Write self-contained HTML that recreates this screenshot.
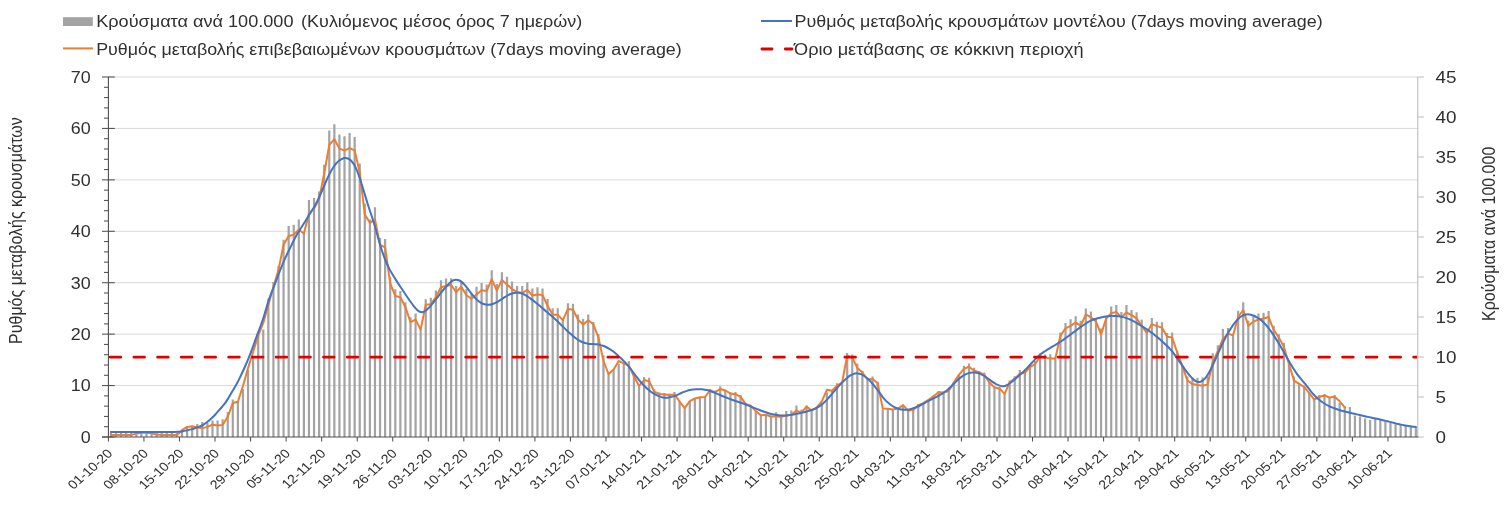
<!DOCTYPE html>
<html><head><meta charset="utf-8"><title>chart</title>
<style>
html,body{margin:0;padding:0;background:#fff;}
body{width:1510px;height:522px;overflow:hidden;}
svg{display:block;will-change:transform;}
text{font-family:"Liberation Sans", "DejaVu Sans", sans-serif;fill:#303030;}
</style></head><body>
<svg width="1510" height="522" viewBox="0 0 1510 522">
<line x1="108.4" y1="385.57" x2="1418.4" y2="385.57" stroke="#d9d9d9" stroke-width="1"/>
<line x1="108.4" y1="334.14" x2="1418.4" y2="334.14" stroke="#d9d9d9" stroke-width="1"/>
<line x1="108.4" y1="282.71" x2="1418.4" y2="282.71" stroke="#d9d9d9" stroke-width="1"/>
<line x1="108.4" y1="231.29" x2="1418.4" y2="231.29" stroke="#d9d9d9" stroke-width="1"/>
<line x1="108.4" y1="179.86" x2="1418.4" y2="179.86" stroke="#d9d9d9" stroke-width="1"/>
<line x1="108.4" y1="128.43" x2="1418.4" y2="128.43" stroke="#d9d9d9" stroke-width="1"/>
<line x1="108.4" y1="77" x2="1418.4" y2="77" stroke="#d9d9d9" stroke-width="1"/>
<path d="M109.84 432.5h2.2V437h-2.2ZM114.92 432.5h2.2V437h-2.2ZM119.99 432.5h2.2V437h-2.2ZM125.07 432.5h2.2V437h-2.2ZM130.15 432.5h2.2V437h-2.2ZM135.23 432.5h2.2V437h-2.2ZM140.3 432.5h2.2V437h-2.2ZM145.38 432.5h2.2V437h-2.2ZM150.46 432.5h2.2V437h-2.2ZM155.54 432.5h2.2V437h-2.2ZM160.61 432.5h2.2V437h-2.2ZM165.69 432.5h2.2V437h-2.2ZM170.77 432.5h2.2V437h-2.2ZM175.85 432.5h2.2V437h-2.2ZM180.92 429.8h2.2V437h-2.2ZM186 426.9h2.2V437h-2.2ZM191.08 425.9h2.2V437h-2.2ZM196.16 424h2.2V437h-2.2ZM201.23 422.1h2.2V437h-2.2ZM206.31 423h2.2V437h-2.2ZM211.39 420.5h2.2V437h-2.2ZM216.47 420.5h2.2V437h-2.2ZM221.54 419.2h2.2V437h-2.2ZM226.62 412h2.2V437h-2.2ZM231.7 399.5h2.2V437h-2.2ZM236.78 401.7h2.2V437h-2.2ZM241.85 389h2.2V437h-2.2ZM246.93 370h2.2V437h-2.2ZM252.01 358h2.2V437h-2.2ZM257.09 334.5h2.2V437h-2.2ZM262.16 329.5h2.2V437h-2.2ZM267.24 298.5h2.2V437h-2.2ZM272.32 282.1h2.2V437h-2.2ZM277.4 265.9h2.2V437h-2.2ZM282.47 239.8h2.2V437h-2.2ZM287.55 226.1h2.2V437h-2.2ZM292.63 224.8h2.2V437h-2.2ZM297.71 219.4h2.2V437h-2.2ZM302.78 232h2.2V437h-2.2ZM307.86 199.9h2.2V437h-2.2ZM312.94 197.9h2.2V437h-2.2ZM318.02 191.5h2.2V437h-2.2ZM323.09 164.8h2.2V437h-2.2ZM328.17 130.4h2.2V437h-2.2ZM333.25 124.2h2.2V437h-2.2ZM338.33 134.4h2.2V437h-2.2ZM343.4 136.2h2.2V437h-2.2ZM348.48 132.9h2.2V437h-2.2ZM353.56 136.9h2.2V437h-2.2ZM358.64 163.6h2.2V437h-2.2ZM363.71 203.4h2.2V437h-2.2ZM368.79 219.6h2.2V437h-2.2ZM373.87 207.2h2.2V437h-2.2ZM378.95 238h2.2V437h-2.2ZM384.02 239h2.2V437h-2.2ZM389.1 277.3h2.2V437h-2.2ZM394.18 289.3h2.2V437h-2.2ZM399.26 291h2.2V437h-2.2ZM404.33 302.2h2.2V437h-2.2ZM409.41 317.2h2.2V437h-2.2ZM414.49 313.4h2.2V437h-2.2ZM419.57 329.6h2.2V437h-2.2ZM424.64 299.2h2.2V437h-2.2ZM429.72 297.7h2.2V437h-2.2ZM434.8 290.5h2.2V437h-2.2ZM439.88 280.3h2.2V437h-2.2ZM444.96 278.6h2.2V437h-2.2ZM450.03 278.2h2.2V437h-2.2ZM455.11 286h2.2V437h-2.2ZM460.19 281.4h2.2V437h-2.2ZM465.27 289.1h2.2V437h-2.2ZM470.34 293.7h2.2V437h-2.2ZM475.42 286.8h2.2V437h-2.2ZM480.5 283h2.2V437h-2.2ZM485.58 284.5h2.2V437h-2.2ZM490.65 270.2h2.2V437h-2.2ZM495.73 284h2.2V437h-2.2ZM500.81 272.2h2.2V437h-2.2ZM505.89 276.8h2.2V437h-2.2ZM510.96 281.4h2.2V437h-2.2ZM516.04 286h2.2V437h-2.2ZM521.12 286h2.2V437h-2.2ZM526.2 282.2h2.2V437h-2.2ZM531.27 288.4h2.2V437h-2.2ZM536.35 287.3h2.2V437h-2.2ZM541.43 288.4h2.2V437h-2.2ZM546.51 299.1h2.2V437h-2.2ZM551.58 308.3h2.2V437h-2.2ZM556.66 308.3h2.2V437h-2.2ZM561.74 319h2.2V437h-2.2ZM566.82 303.2h2.2V437h-2.2ZM571.89 303.7h2.2V437h-2.2ZM576.97 314.4h2.2V437h-2.2ZM582.05 319h2.2V437h-2.2ZM587.13 314.4h2.2V437h-2.2ZM592.2 322h2.2V437h-2.2ZM597.28 333.9h2.2V437h-2.2ZM602.36 355.6h2.2V437h-2.2ZM607.44 373.2h2.2V437h-2.2ZM612.51 369.4h2.2V437h-2.2ZM617.59 363.7h2.2V437h-2.2ZM622.67 362.8h2.2V437h-2.2ZM627.75 361.3h2.2V437h-2.2ZM632.82 374h2.2V437h-2.2ZM637.9 385.5h2.2V437h-2.2ZM642.98 377.1h2.2V437h-2.2ZM648.06 377.8h2.2V437h-2.2ZM653.13 389.3h2.2V437h-2.2ZM658.21 392.4h2.2V437h-2.2ZM663.29 393h2.2V437h-2.2ZM668.37 393.4h2.2V437h-2.2ZM673.44 392.1h2.2V437h-2.2ZM678.52 401.6h2.2V437h-2.2ZM683.6 407.9h2.2V437h-2.2ZM688.68 401.6h2.2V437h-2.2ZM693.75 398.5h2.2V437h-2.2ZM698.83 396.9h2.2V437h-2.2ZM703.91 396.9h2.2V437h-2.2ZM708.99 389h2.2V437h-2.2ZM714.06 390.5h2.2V437h-2.2ZM719.14 386.3h2.2V437h-2.2ZM724.22 389.5h2.2V437h-2.2ZM729.3 392.3h2.2V437h-2.2ZM734.37 392.1h2.2V437h-2.2ZM739.45 395.1h2.2V437h-2.2ZM744.53 403.7h2.2V437h-2.2ZM749.61 405.8h2.2V437h-2.2ZM754.68 411.1h2.2V437h-2.2ZM759.76 415.3h2.2V437h-2.2ZM764.84 414.3h2.2V437h-2.2ZM769.92 416.4h2.2V437h-2.2ZM774.99 412.2h2.2V437h-2.2ZM780.07 414.7h2.2V437h-2.2ZM785.15 410.9h2.2V437h-2.2ZM790.23 410.6h2.2V437h-2.2ZM795.3 405.5h2.2V437h-2.2ZM800.38 409.4h2.2V437h-2.2ZM805.46 405.5h2.2V437h-2.2ZM810.54 410.1h2.2V437h-2.2ZM815.61 407.8h2.2V437h-2.2ZM820.69 402.5h2.2V437h-2.2ZM825.77 392.5h2.2V437h-2.2ZM830.85 391h2.2V437h-2.2ZM835.92 383.3h2.2V437h-2.2ZM841 383.3h2.2V437h-2.2ZM846.08 353h2.2V437h-2.2ZM851.16 354.5h2.2V437h-2.2ZM856.23 363.4h2.2V437h-2.2ZM861.31 370.7h2.2V437h-2.2ZM866.39 378h2.2V437h-2.2ZM871.47 376.4h2.2V437h-2.2ZM876.54 381.8h2.2V437h-2.2ZM881.62 409.2h2.2V437h-2.2ZM886.7 409.1h2.2V437h-2.2ZM891.78 410.1h2.2V437h-2.2ZM896.85 409.4h2.2V437h-2.2ZM901.93 404.8h2.2V437h-2.2ZM907.01 410.6h2.2V437h-2.2ZM912.09 410.1h2.2V437h-2.2ZM917.16 404h2.2V437h-2.2ZM922.24 402.5h2.2V437h-2.2ZM927.32 400.2h2.2V437h-2.2ZM932.4 395.6h2.2V437h-2.2ZM937.47 391h2.2V437h-2.2ZM942.55 391.7h2.2V437h-2.2ZM947.63 390.2h2.2V437h-2.2ZM952.71 382.5h2.2V437h-2.2ZM957.78 374.9h2.2V437h-2.2ZM962.86 365.7h2.2V437h-2.2ZM967.94 363.4h2.2V437h-2.2ZM973.02 367.7h2.2V437h-2.2ZM978.09 371.1h2.2V437h-2.2ZM983.17 372.6h2.2V437h-2.2ZM988.25 381.8h2.2V437h-2.2ZM993.33 386h2.2V437h-2.2ZM998.4 387h2.2V437h-2.2ZM1003.48 392h2.2V437h-2.2ZM1008.56 380.5h2.2V437h-2.2ZM1013.64 376.3h2.2V437h-2.2ZM1018.71 370h2.2V437h-2.2ZM1023.79 370.9h2.2V437h-2.2ZM1028.87 364.2h2.2V437h-2.2ZM1033.95 361.3h2.2V437h-2.2ZM1039.02 353.3h2.2V437h-2.2ZM1044.1 354.6h2.2V437h-2.2ZM1049.18 354.2h2.2V437h-2.2ZM1054.26 357.5h2.2V437h-2.2ZM1059.33 332.6h2.2V437h-2.2ZM1064.41 323h2.2V437h-2.2ZM1069.49 319.2h2.2V437h-2.2ZM1074.57 316.3h2.2V437h-2.2ZM1079.64 320.7h2.2V437h-2.2ZM1084.72 308.6h2.2V437h-2.2ZM1089.8 311.5h2.2V437h-2.2ZM1094.88 318h2.2V437h-2.2ZM1099.96 328.6h2.2V437h-2.2ZM1105.03 316h2.2V437h-2.2ZM1110.11 306.5h2.2V437h-2.2ZM1115.19 305h2.2V437h-2.2ZM1120.27 311.9h2.2V437h-2.2ZM1125.34 305h2.2V437h-2.2ZM1130.42 310h2.2V437h-2.2ZM1135.5 312.3h2.2V437h-2.2ZM1140.58 319.5h2.2V437h-2.2ZM1145.65 328.5h2.2V437h-2.2ZM1150.73 318h2.2V437h-2.2ZM1155.81 321.8h2.2V437h-2.2ZM1160.89 322.2h2.2V437h-2.2ZM1165.96 333h2.2V437h-2.2ZM1171.04 332.4h2.2V437h-2.2ZM1176.12 350.6h2.2V437h-2.2ZM1181.2 365h2.2V437h-2.2ZM1186.27 376.5h2.2V437h-2.2ZM1191.35 377.4h2.2V437h-2.2ZM1196.43 377.8h2.2V437h-2.2ZM1201.51 377.4h2.2V437h-2.2ZM1206.58 376.5h2.2V437h-2.2ZM1211.66 353.2h2.2V437h-2.2ZM1216.74 345.2h2.2V437h-2.2ZM1221.82 329h2.2V437h-2.2ZM1226.89 327.9h2.2V437h-2.2ZM1231.97 335.3h2.2V437h-2.2ZM1237.05 310.7h2.2V437h-2.2ZM1242.13 302.2h2.2V437h-2.2ZM1247.2 320.6h2.2V437h-2.2ZM1252.28 316.3h2.2V437h-2.2ZM1257.36 313.6h2.2V437h-2.2ZM1262.44 312.8h2.2V437h-2.2ZM1267.51 311.1h2.2V437h-2.2ZM1272.59 325.8h2.2V437h-2.2ZM1277.67 334.3h2.2V437h-2.2ZM1282.75 342.7h2.2V437h-2.2ZM1287.82 362.7h2.2V437h-2.2ZM1292.9 376.4h2.2V437h-2.2ZM1297.98 382.7h2.2V437h-2.2ZM1303.06 385.9h2.2V437h-2.2ZM1308.13 392.8h2.2V437h-2.2ZM1313.21 398.4h2.2V437h-2.2ZM1318.29 394.9h2.2V437h-2.2ZM1323.37 394h2.2V437h-2.2ZM1328.44 397.2h2.2V437h-2.2ZM1333.52 394.9h2.2V437h-2.2ZM1338.6 403h2.2V437h-2.2ZM1343.68 406.4h2.2V437h-2.2ZM1348.75 407h2.2V437h-2.2ZM1353.83 415.6h2.2V437h-2.2ZM1358.91 416.6h2.2V437h-2.2ZM1363.99 418.5h2.2V437h-2.2ZM1369.06 420h2.2V437h-2.2ZM1374.14 419.1h2.2V437h-2.2ZM1379.22 420.2h2.2V437h-2.2ZM1384.3 421.4h2.2V437h-2.2ZM1389.37 422.5h2.2V437h-2.2ZM1394.45 423.7h2.2V437h-2.2ZM1399.53 424.8h2.2V437h-2.2ZM1404.61 426h2.2V437h-2.2ZM1409.68 426.6h2.2V437h-2.2ZM1414.76 427.1h2.2V437h-2.2Z" fill="#a3a3a3"/>
<polyline points="110.94,434.9 116.02,434.9 121.09,434.9 126.17,434.9 131.25,434.9 136.33,433.6 141.4,432.8 146.48,432.7 151.56,433.2 156.64,434.6 161.71,434.9 166.79,434.9 171.87,434.9 176.95,434.9 182.02,430.2 187.1,426.9 192.18,426.2 197.26,427.5 202.33,428.1 207.41,426.9 212.49,424.7 217.57,425.6 222.64,425 227.72,416.8 232.8,403 237.88,401.8 242.95,386 248.03,368.1 253.11,352 258.19,335.6 263.26,323 268.34,305 273.42,287 278.5,269.7 283.57,244.8 288.65,236 293.73,234.8 298.81,229.8 303.88,233.5 308.96,213.6 314.04,208.6 319.12,199 324.19,173.5 329.27,144.9 334.35,139.2 339.43,148.6 344.5,150.6 349.58,148.1 354.66,150.4 359.74,172.3 364.81,214.6 369.89,222.8 374.97,219.6 380.05,245 385.12,247.4 390.2,283.5 395.28,296 400.36,297.2 405.43,307.2 410.51,322.1 415.59,319.6 420.67,329.6 425.74,304.7 430.82,304.2 435.9,297.2 440.98,287.3 446.06,286 451.13,285 456.21,292.1 461.29,286.8 466.37,295.2 471.44,298.7 476.52,294.4 481.6,290.2 486.68,291.1 491.75,279.1 496.83,290.6 501.91,279.9 506.99,284.5 512.06,289.1 517.14,292.1 522.22,293 527.3,289.9 532.37,295.6 537.45,294.5 542.53,294.9 547.61,306 552.68,314.4 557.76,314.9 562.84,320.1 567.92,309 572.99,309.8 578.07,319.8 583.15,324.4 588.23,320.2 593.3,324.3 598.38,337.3 603.46,361 608.54,374 613.61,369.4 618.69,361 623.77,363.3 628.85,365.6 633.92,376.3 639,385.8 644.08,380.1 649.16,381.2 654.23,391.6 659.31,393.9 664.39,394.5 669.47,395 674.54,394.4 679.62,401.6 684.7,408.1 689.78,401.1 694.85,398.5 699.93,397.2 705.01,396.9 710.09,390.5 715.16,392.1 720.24,389 725.32,390.5 730.4,393.4 735.47,394.2 740.55,396.9 745.63,403.9 750.71,405.8 755.78,411.1 760.86,415.3 765.94,414.8 771.02,416.5 776.09,416.4 781.17,416.7 786.25,415.5 791.33,414.7 796.4,410.6 801.48,412.7 806.56,406.6 811.64,410.6 816.71,407.5 821.79,401.4 826.87,389.8 831.95,390.7 837.02,385.6 842.1,382.5 847.18,355.7 852.26,357.6 857.33,368 862.41,372.6 867.49,379.5 872.57,379 877.64,383.3 882.72,408.4 887.8,408.8 892.88,409.4 897.95,408.6 903.03,405.1 908.11,410.6 913.19,410.1 918.26,405.1 923.34,403.2 928.42,399.9 933.5,396.3 938.57,392.2 943.65,392.5 948.73,391 953.81,382.5 958.88,374.9 963.96,368.8 969.04,366.8 974.12,370.7 979.19,372.3 984.27,374.9 989.35,382.5 994.43,387.4 999.5,388.4 1004.58,393.9 1009.66,382.4 1014.74,378.6 1019.81,373.8 1024.89,372.8 1029.97,367.1 1035.05,364.2 1040.12,356.5 1045.2,357.5 1050.28,358.5 1055.36,358.5 1060.43,335.5 1065.51,328.4 1070.59,325.9 1075.67,322.6 1080.74,325.9 1085.82,314.4 1090.9,317.3 1095.98,321.6 1101.06,334.4 1106.13,318.6 1111.21,313.2 1116.29,311.9 1121.37,317.6 1126.44,312.3 1131.52,315.1 1136.6,318.4 1141.68,325.7 1146.75,333 1151.83,324.1 1156.91,326.1 1161.99,327.6 1167.06,336.8 1172.14,337.6 1177.22,352.5 1182.3,365.9 1187.37,380.3 1192.45,384.1 1197.53,385.1 1202.61,385.7 1207.68,384.5 1212.76,362 1217.84,351.1 1222.92,338.9 1227.99,333.8 1233.07,335.3 1238.15,317 1243.23,310 1248.3,325.8 1253.38,321.6 1258.46,319.5 1263.54,318.5 1268.61,317 1273.69,330 1278.77,337.4 1283.85,346.9 1288.92,363.8 1294,380.6 1299.08,383.8 1304.16,386.9 1309.23,393.1 1314.31,399.6 1319.39,396.7 1324.47,395.5 1329.54,397.5 1334.62,396.7 1339.7,401.3 1344.78,407.4" fill="none" stroke="#ED7D31" stroke-width="2" stroke-linejoin="round" stroke-linecap="round"/>
<path d="M110.9 432C111.4 432 112.9 431.99 113.9 431.99C114.9 431.99 115.9 431.99 116.9 431.99C117.9 431.98 118.9 431.98 119.9 431.98C120.9 431.98 121.9 431.98 122.9 431.97C123.9 431.97 124.9 431.97 125.9 431.97C126.9 431.96 127.9 431.96 128.9 431.96C129.9 431.96 130.9 431.95 131.9 431.95C132.9 431.95 133.9 431.95 134.9 431.95C135.9 431.94 136.9 431.94 137.9 431.94C138.9 431.94 139.9 431.93 140.9 431.93C141.9 431.93 142.9 431.93 143.9 431.93C144.9 431.92 145.9 431.92 146.9 431.92C147.9 431.92 148.9 431.91 149.9 431.91C150.9 431.91 151.9 431.91 152.9 431.91C153.9 431.9 154.9 431.9 155.9 431.9C156.9 431.9 157.9 431.9 158.9 431.9C159.9 431.9 160.9 431.9 161.9 431.9C162.9 431.9 163.9 431.9 164.9 431.9C165.9 431.9 166.9 431.9 167.9 431.9C168.9 431.9 169.9 431.9 170.9 431.9C171.9 431.9 172.9 431.9 173.9 431.9C174.9 431.89 175.9 431.9 176.9 431.86C177.9 431.82 178.9 431.77 179.9 431.67C180.9 431.57 181.9 431.42 182.9 431.24C183.9 431.07 184.9 430.85 185.9 430.62C186.9 430.4 187.9 430.15 188.9 429.89C189.9 429.64 190.9 429.39 191.9 429.1C192.9 428.82 193.9 428.52 194.9 428.19C195.9 427.87 196.9 427.53 197.9 427.16C198.9 426.79 199.9 426.45 200.9 425.98C201.9 425.52 202.9 424.99 203.9 424.36C204.9 423.73 205.9 422.97 206.9 422.21C207.9 421.44 208.9 420.65 209.9 419.79C210.9 418.93 211.9 418.03 212.9 417.04C213.9 416.05 214.9 414.93 215.9 413.83C216.9 412.72 217.9 411.54 218.9 410.4C219.9 409.26 220.9 408.15 221.9 406.98C222.9 405.8 223.9 404.69 224.9 403.34C225.9 401.99 226.9 400.46 227.9 398.87C228.9 397.28 229.9 395.49 230.9 393.8C231.9 392.11 232.9 390.44 233.9 388.72C234.9 386.99 235.9 385.3 236.9 383.45C237.9 381.6 238.9 379.65 239.9 377.61C240.9 375.58 241.9 373.45 242.9 371.26C243.9 369.08 244.9 366.83 245.9 364.51C246.9 362.19 247.9 359.83 248.9 357.34C249.9 354.85 250.9 352.26 251.9 349.57C252.9 346.88 253.9 343.96 254.9 341.19C255.9 338.42 256.9 335.62 257.9 332.92C258.9 330.22 259.9 327.79 260.9 325.01C261.9 322.23 262.9 319.37 263.9 316.23C264.9 313.08 265.9 309.35 266.9 306.12C267.9 302.89 268.9 299.71 269.9 296.86C270.9 294.01 271.9 291.6 272.9 289.02C273.9 286.44 274.9 283.97 275.9 281.37C276.9 278.78 277.9 276.06 278.9 273.47C279.9 270.87 280.9 268.24 281.9 265.81C282.9 263.38 283.9 261.08 284.9 258.87C285.9 256.66 286.9 254.64 287.9 252.54C288.9 250.45 289.9 248.39 290.9 246.33C291.9 244.27 292.9 242.12 293.9 240.17C294.9 238.22 295.9 236.36 296.9 234.62C297.9 232.88 298.9 231.32 299.9 229.73C300.9 228.14 301.9 226.66 302.9 225.08C303.9 223.51 304.9 221.9 305.9 220.27C306.9 218.65 307.9 216.94 308.9 215.32C309.9 213.7 310.9 212.16 311.9 210.55C312.9 208.95 313.9 207.46 314.9 205.69C315.9 203.91 316.9 201.98 317.9 199.92C318.9 197.85 319.9 195.55 320.9 193.3C321.9 191.04 322.9 188.68 323.9 186.38C324.9 184.07 325.9 181.67 326.9 179.46C327.9 177.26 328.9 175.06 329.9 173.14C330.9 171.23 331.9 169.53 332.9 167.97C333.9 166.41 334.9 164.96 335.9 163.76C336.9 162.56 337.9 161.56 338.9 160.76C339.9 159.96 340.9 159.4 341.9 158.96C342.9 158.51 343.9 158.15 344.9 158.07C345.9 157.99 346.9 158.07 347.9 158.47C348.9 158.86 349.9 159.48 350.9 160.46C351.9 161.44 352.9 162.69 353.9 164.35C354.9 166.01 355.9 168.05 356.9 170.42C357.9 172.78 358.9 175.59 359.9 178.54C360.9 181.49 361.9 184.87 362.9 188.13C363.9 191.39 364.9 194.85 365.9 198.11C366.9 201.37 367.9 204.58 368.9 207.68C369.9 210.78 370.9 213.62 371.9 216.72C372.9 219.82 373.9 222.87 374.9 226.27C375.9 229.67 376.9 233.59 377.9 237.14C378.9 240.68 379.9 244.36 380.9 247.55C381.9 250.74 382.9 253.58 383.9 256.28C384.9 258.98 385.9 261.49 386.9 263.76C387.9 266.03 388.9 268 389.9 269.89C390.9 271.78 391.9 273.42 392.9 275.09C393.9 276.76 394.9 278.34 395.9 279.91C396.9 281.48 397.9 283 398.9 284.52C399.9 286.04 400.9 287.53 401.9 289.04C402.9 290.54 403.9 292.04 404.9 293.53C405.9 295.02 406.9 296.51 407.9 297.97C408.9 299.42 409.9 300.87 410.9 302.25C411.9 303.63 412.9 305.02 413.9 306.26C414.9 307.5 415.9 308.75 416.9 309.67C417.9 310.58 418.9 311.36 419.9 311.76C420.9 312.15 421.9 312.25 422.9 312.03C423.9 311.81 424.9 311.17 425.9 310.44C426.9 309.72 427.9 308.69 428.9 307.67C429.9 306.65 430.9 305.49 431.9 304.32C432.9 303.16 433.9 301.94 434.9 300.69C435.9 299.43 436.9 298.1 437.9 296.8C438.9 295.5 439.9 294.15 440.9 292.9C441.9 291.64 442.9 290.45 443.9 289.26C444.9 288.08 445.9 286.91 446.9 285.8C447.9 284.7 448.9 283.52 449.9 282.63C450.9 281.75 451.9 280.97 452.9 280.48C453.9 279.98 454.9 279.69 455.9 279.65C456.9 279.61 457.9 279.81 458.9 280.22C459.9 280.64 460.9 281.3 461.9 282.12C462.9 282.94 463.9 284.03 464.9 285.17C465.9 286.3 466.9 287.63 467.9 288.93C468.9 290.23 469.9 291.66 470.9 292.95C471.9 294.24 472.9 295.53 473.9 296.68C474.9 297.82 475.9 298.9 476.9 299.81C477.9 300.73 478.9 301.51 479.9 302.16C480.9 302.81 481.9 303.33 482.9 303.74C483.9 304.14 484.9 304.42 485.9 304.58C486.9 304.75 487.9 304.79 488.9 304.72C489.9 304.64 490.9 304.43 491.9 304.16C492.9 303.88 493.9 303.5 494.9 303.06C495.9 302.61 496.9 302.08 497.9 301.51C498.9 300.95 499.9 300.29 500.9 299.64C501.9 299 502.9 298.29 503.9 297.64C504.9 296.99 505.9 296.33 506.9 295.76C507.9 295.19 508.9 294.65 509.9 294.23C510.9 293.81 511.9 293.48 512.9 293.24C513.9 292.99 514.9 292.83 515.9 292.76C516.9 292.7 517.9 292.7 518.9 292.83C519.9 292.96 520.9 293.2 521.9 293.55C522.9 293.89 523.9 294.38 524.9 294.91C525.9 295.44 526.9 296.07 527.9 296.73C528.9 297.38 529.9 298.1 530.9 298.82C531.9 299.55 532.9 300.31 533.9 301.09C534.9 301.88 535.9 302.69 536.9 303.51C537.9 304.34 538.9 305.2 539.9 306.04C540.9 306.89 541.9 307.75 542.9 308.6C543.9 309.45 544.9 310.3 545.9 311.15C546.9 312 547.9 312.84 548.9 313.7C549.9 314.56 550.9 315.44 551.9 316.32C552.9 317.21 553.9 318.11 554.9 319.02C555.9 319.94 556.9 320.86 557.9 321.8C558.9 322.74 559.9 323.71 560.9 324.68C561.9 325.65 562.9 326.64 563.9 327.61C564.9 328.57 565.9 329.53 566.9 330.47C567.9 331.41 568.9 332.33 569.9 333.23C570.9 334.13 571.9 335.03 572.9 335.87C573.9 336.72 574.9 337.56 575.9 338.32C576.9 339.07 577.9 339.79 578.9 340.4C579.9 341.01 580.9 341.52 581.9 341.96C582.9 342.39 583.9 342.72 584.9 343C585.9 343.29 586.9 343.49 587.9 343.65C588.9 343.81 589.9 343.91 590.9 343.99C591.9 344.07 592.9 344.06 593.9 344.11C594.9 344.16 595.9 344.17 596.9 344.3C597.9 344.42 598.9 344.61 599.9 344.85C600.9 345.09 601.9 345.39 602.9 345.75C603.9 346.1 604.9 346.5 605.9 346.97C606.9 347.45 607.9 348 608.9 348.59C609.9 349.18 610.9 349.8 611.9 350.5C612.9 351.2 613.9 351.98 614.9 352.8C615.9 353.62 616.9 354.51 617.9 355.42C618.9 356.32 619.9 357.25 620.9 358.21C621.9 359.17 622.9 360.15 623.9 361.17C624.9 362.19 625.9 363.22 626.9 364.35C627.9 365.49 628.9 366.7 629.9 367.97C630.9 369.24 631.9 370.65 632.9 371.98C633.9 373.32 634.9 374.69 635.9 375.99C636.9 377.29 637.9 378.55 638.9 379.78C639.9 381 640.9 382.2 641.9 383.32C642.9 384.45 643.9 385.52 644.9 386.51C645.9 387.51 646.9 388.43 647.9 389.3C648.9 390.17 649.9 391 650.9 391.72C651.9 392.44 652.9 393.05 653.9 393.64C654.9 394.23 655.9 394.75 656.9 395.25C657.9 395.74 658.9 396.25 659.9 396.61C660.9 396.97 661.9 397.26 662.9 397.43C663.9 397.6 664.9 397.65 665.9 397.65C666.9 397.65 667.9 397.56 668.9 397.43C669.9 397.3 670.9 397.11 671.9 396.86C672.9 396.61 673.9 396.3 674.9 395.93C675.9 395.56 676.9 395.09 677.9 394.64C678.9 394.19 679.9 393.67 680.9 393.22C681.9 392.76 682.9 392.32 683.9 391.92C684.9 391.53 685.9 391.16 686.9 390.85C687.9 390.54 688.9 390.26 689.9 390.03C690.9 389.81 691.9 389.64 692.9 389.51C693.9 389.37 694.9 389.3 695.9 389.24C696.9 389.18 697.9 389.15 698.9 389.16C699.9 389.17 700.9 389.23 701.9 389.32C702.9 389.41 703.9 389.53 704.9 389.7C705.9 389.86 706.9 390.04 707.9 390.29C708.9 390.54 709.9 390.84 710.9 391.18C711.9 391.53 712.9 391.95 713.9 392.36C714.9 392.77 715.9 393.22 716.9 393.66C717.9 394.09 718.9 394.54 719.9 394.97C720.9 395.39 721.9 395.81 722.9 396.22C723.9 396.63 724.9 397.03 725.9 397.43C726.9 397.83 727.9 398.22 728.9 398.6C729.9 398.99 730.9 399.36 731.9 399.71C732.9 400.07 733.9 400.41 734.9 400.74C735.9 401.07 736.9 401.39 737.9 401.71C738.9 402.04 739.9 402.35 740.9 402.68C741.9 403.02 742.9 403.36 743.9 403.73C744.9 404.09 745.9 404.48 746.9 404.87C747.9 405.27 748.9 405.7 749.9 406.12C750.9 406.53 751.9 406.96 752.9 407.37C753.9 407.78 754.9 408.19 755.9 408.59C756.9 408.99 757.9 409.39 758.9 409.79C759.9 410.18 760.9 410.57 761.9 410.95C762.9 411.32 763.9 411.7 764.9 412.05C765.9 412.4 766.9 412.74 767.9 413.05C768.9 413.37 769.9 413.67 770.9 413.92C771.9 414.17 772.9 414.39 773.9 414.58C774.9 414.77 775.9 414.91 776.9 415.05C777.9 415.19 778.9 415.33 779.9 415.41C780.9 415.5 781.9 415.57 782.9 415.57C783.9 415.57 784.9 415.5 785.9 415.41C786.9 415.33 787.9 415.2 788.9 415.08C789.9 414.95 790.9 414.8 791.9 414.65C792.9 414.49 793.9 414.33 794.9 414.16C795.9 413.98 796.9 413.8 797.9 413.6C798.9 413.4 799.9 413.2 800.9 412.97C801.9 412.75 802.9 412.52 803.9 412.26C804.9 412 805.9 411.72 806.9 411.43C807.9 411.14 808.9 410.83 809.9 410.51C810.9 410.18 811.9 409.84 812.9 409.46C813.9 409.09 814.9 408.72 815.9 408.26C816.9 407.79 817.9 407.31 818.9 406.67C819.9 406.03 820.9 405.25 821.9 404.42C822.9 403.59 823.9 402.67 824.9 401.71C825.9 400.74 826.9 399.7 827.9 398.62C828.9 397.53 829.9 396.33 830.9 395.18C831.9 394.02 832.9 392.81 833.9 391.66C834.9 390.5 835.9 389.35 836.9 388.22C837.9 387.1 838.9 385.98 839.9 384.9C840.9 383.82 841.9 382.77 842.9 381.77C843.9 380.77 844.9 379.8 845.9 378.9C846.9 378.01 847.9 377.12 848.9 376.4C849.9 375.68 850.9 375.08 851.9 374.6C852.9 374.12 853.9 373.74 854.9 373.54C855.9 373.34 856.9 373.28 857.9 373.39C858.9 373.49 859.9 373.79 860.9 374.18C861.9 374.57 862.9 375.08 863.9 375.73C864.9 376.38 865.9 377.2 866.9 378.06C867.9 378.92 868.9 379.87 869.9 380.9C870.9 381.93 871.9 383.06 872.9 384.24C873.9 385.43 874.9 386.71 875.9 388C876.9 389.28 877.9 390.61 878.9 391.94C879.9 393.26 880.9 394.67 881.9 395.96C882.9 397.24 883.9 398.54 884.9 399.64C885.9 400.75 886.9 401.69 887.9 402.58C888.9 403.47 889.9 404.26 890.9 404.98C891.9 405.69 892.9 406.33 893.9 406.88C894.9 407.43 895.9 407.89 896.9 408.27C897.9 408.66 898.9 408.97 899.9 409.21C900.9 409.45 901.9 409.62 902.9 409.72C903.9 409.82 904.9 409.85 905.9 409.81C906.9 409.77 907.9 409.67 908.9 409.5C909.9 409.34 910.9 409.1 911.9 408.81C912.9 408.52 913.9 408.15 914.9 407.76C915.9 407.37 916.9 406.93 917.9 406.47C918.9 406.01 919.9 405.5 920.9 404.99C921.9 404.48 922.9 403.93 923.9 403.39C924.9 402.85 925.9 402.27 926.9 401.73C927.9 401.19 928.9 400.65 929.9 400.14C930.9 399.63 931.9 399.16 932.9 398.66C933.9 398.17 934.9 397.69 935.9 397.17C936.9 396.65 937.9 396.13 938.9 395.56C939.9 395 940.9 394.42 941.9 393.8C942.9 393.17 943.9 392.53 944.9 391.8C945.9 391.08 946.9 390.31 947.9 389.47C948.9 388.62 949.9 387.67 950.9 386.72C951.9 385.78 952.9 384.77 953.9 383.79C954.9 382.81 955.9 381.79 956.9 380.85C957.9 379.91 958.9 378.97 959.9 378.14C960.9 377.32 961.9 376.56 962.9 375.9C963.9 375.24 964.9 374.66 965.9 374.2C966.9 373.74 967.9 373.41 968.9 373.14C969.9 372.88 970.9 372.7 971.9 372.6C972.9 372.5 973.9 372.47 974.9 372.54C975.9 372.61 976.9 372.74 977.9 373C978.9 373.27 979.9 373.67 980.9 374.12C981.9 374.58 982.9 375.15 983.9 375.75C984.9 376.35 985.9 377.04 986.9 377.73C987.9 378.43 988.9 379.19 989.9 379.91C990.9 380.64 991.9 381.41 992.9 382.09C993.9 382.77 994.9 383.44 995.9 384C996.9 384.55 997.9 385.03 998.9 385.4C999.9 385.78 1000.9 386.14 1001.9 386.23C1002.9 386.32 1003.9 386.24 1004.9 385.96C1005.9 385.68 1006.9 385.13 1007.9 384.54C1008.9 383.96 1009.9 383.21 1010.9 382.46C1011.9 381.71 1012.9 380.86 1013.9 380.03C1014.9 379.2 1015.9 378.34 1016.9 377.49C1017.9 376.63 1018.9 375.77 1019.9 374.89C1020.9 374.01 1021.9 373.14 1022.9 372.19C1023.9 371.25 1024.9 370.26 1025.9 369.23C1026.9 368.19 1027.9 367.07 1028.9 365.99C1029.9 364.9 1030.9 363.79 1031.9 362.72C1032.9 361.66 1033.9 360.61 1034.9 359.59C1035.9 358.58 1036.9 357.56 1037.9 356.64C1038.9 355.71 1039.9 354.85 1040.9 354.06C1041.9 353.27 1042.9 352.59 1043.9 351.91C1044.9 351.22 1045.9 350.59 1046.9 349.95C1047.9 349.32 1048.9 348.72 1049.9 348.11C1050.9 347.51 1051.9 346.93 1052.9 346.34C1053.9 345.74 1054.9 345.15 1055.9 344.54C1056.9 343.94 1057.9 343.33 1058.9 342.7C1059.9 342.07 1060.9 341.45 1061.9 340.78C1062.9 340.11 1063.9 339.4 1064.9 338.68C1065.9 337.96 1066.9 337.2 1067.9 336.46C1068.9 335.71 1069.9 334.96 1070.9 334.21C1071.9 333.47 1072.9 332.73 1073.9 331.99C1074.9 331.25 1075.9 330.51 1076.9 329.78C1077.9 329.05 1078.9 328.32 1079.9 327.6C1080.9 326.89 1081.9 326.17 1082.9 325.49C1083.9 324.8 1084.9 324.13 1085.9 323.5C1086.9 322.88 1087.9 322.29 1088.9 321.74C1089.9 321.19 1090.9 320.65 1091.9 320.2C1092.9 319.74 1093.9 319.35 1094.9 319.01C1095.9 318.68 1096.9 318.44 1097.9 318.19C1098.9 317.93 1099.9 317.71 1100.9 317.49C1101.9 317.27 1102.9 317.05 1103.9 316.84C1104.9 316.64 1105.9 316.44 1106.9 316.28C1107.9 316.13 1108.9 316 1109.9 315.93C1110.9 315.86 1111.9 315.86 1112.9 315.88C1113.9 315.89 1114.9 315.95 1115.9 316.03C1116.9 316.11 1117.9 316.22 1118.9 316.36C1119.9 316.5 1120.9 316.68 1121.9 316.88C1122.9 317.09 1123.9 317.31 1124.9 317.6C1125.9 317.89 1126.9 318.24 1127.9 318.62C1128.9 319 1129.9 319.44 1130.9 319.9C1131.9 320.37 1132.9 320.87 1133.9 321.41C1134.9 321.95 1135.9 322.56 1136.9 323.16C1137.9 323.76 1138.9 324.39 1139.9 325.01C1140.9 325.64 1141.9 326.26 1142.9 326.89C1143.9 327.51 1144.9 328.13 1145.9 328.78C1146.9 329.42 1147.9 330.07 1148.9 330.76C1149.9 331.45 1150.9 332.18 1151.9 332.92C1152.9 333.66 1153.9 334.42 1154.9 335.2C1155.9 335.99 1156.9 336.8 1157.9 337.64C1158.9 338.48 1159.9 339.34 1160.9 340.22C1161.9 341.1 1162.9 342 1163.9 342.94C1164.9 343.87 1165.9 344.83 1166.9 345.83C1167.9 346.83 1168.9 347.83 1169.9 348.93C1170.9 350.04 1171.9 351.2 1172.9 352.45C1173.9 353.7 1174.9 355.07 1175.9 356.43C1176.9 357.8 1177.9 359.21 1178.9 360.64C1179.9 362.07 1180.9 363.54 1181.9 365C1182.9 366.45 1183.9 367.97 1184.9 369.37C1185.9 370.77 1186.9 372.14 1187.9 373.4C1188.9 374.66 1189.9 375.85 1190.9 376.93C1191.9 378.01 1192.9 379.08 1193.9 379.86C1194.9 380.65 1195.9 381.3 1196.9 381.65C1197.9 381.99 1198.9 382.11 1199.9 381.91C1200.9 381.71 1201.9 381.19 1202.9 380.44C1203.9 379.68 1204.9 378.65 1205.9 377.37C1206.9 376.1 1207.9 374.51 1208.9 372.78C1209.9 371.06 1210.9 369.08 1211.9 367.03C1212.9 364.99 1213.9 362.74 1214.9 360.52C1215.9 358.3 1216.9 355.96 1217.9 353.71C1218.9 351.46 1219.9 349.2 1220.9 347.03C1221.9 344.86 1222.9 342.69 1223.9 340.68C1224.9 338.66 1225.9 336.75 1226.9 334.94C1227.9 333.14 1228.9 331.47 1229.9 329.87C1230.9 328.27 1231.9 326.76 1232.9 325.34C1233.9 323.92 1234.9 322.56 1235.9 321.37C1236.9 320.18 1237.9 319.1 1238.9 318.21C1239.9 317.31 1240.9 316.58 1241.9 316C1242.9 315.41 1243.9 314.97 1244.9 314.69C1245.9 314.42 1246.9 314.33 1247.9 314.34C1248.9 314.34 1249.9 314.48 1250.9 314.72C1251.9 314.95 1252.9 315.32 1253.9 315.75C1254.9 316.18 1255.9 316.7 1256.9 317.28C1257.9 317.87 1258.9 318.53 1259.9 319.28C1260.9 320.02 1261.9 320.83 1262.9 321.76C1263.9 322.7 1264.9 323.75 1265.9 324.88C1266.9 326 1267.9 327.23 1268.9 328.53C1269.9 329.82 1270.9 331.21 1271.9 332.64C1272.9 334.07 1273.9 335.58 1274.9 337.12C1275.9 338.66 1276.9 340.26 1277.9 341.89C1278.9 343.53 1279.9 345.2 1280.9 346.92C1281.9 348.64 1282.9 350.41 1283.9 352.19C1284.9 353.97 1285.9 355.81 1286.9 357.59C1287.9 359.37 1288.9 361.14 1289.9 362.85C1290.9 364.55 1291.9 366.23 1292.9 367.82C1293.9 369.41 1294.9 370.94 1295.9 372.38C1296.9 373.82 1297.9 375.16 1298.9 376.46C1299.9 377.75 1300.9 378.95 1301.9 380.15C1302.9 381.36 1303.9 382.47 1304.9 383.69C1305.9 384.91 1306.9 386.2 1307.9 387.47C1308.9 388.74 1309.9 390.09 1310.9 391.31C1311.9 392.53 1312.9 393.73 1313.9 394.8C1314.9 395.88 1315.9 396.84 1316.9 397.75C1317.9 398.66 1318.9 399.47 1319.9 400.26C1320.9 401.06 1321.9 401.81 1322.9 402.51C1323.9 403.21 1324.9 403.88 1325.9 404.49C1326.9 405.09 1327.9 405.63 1328.9 406.12C1329.9 406.61 1330.9 407.03 1331.9 407.43C1332.9 407.84 1333.9 408.2 1334.9 408.55C1335.9 408.9 1336.9 409.23 1337.9 409.55C1338.9 409.86 1339.9 410.15 1340.9 410.44C1341.9 410.72 1342.9 410.99 1343.9 411.25C1344.9 411.52 1345.9 411.78 1346.9 412.04C1347.9 412.29 1348.9 412.55 1349.9 412.79C1350.9 413.03 1351.9 413.26 1352.9 413.49C1353.9 413.71 1354.9 413.92 1355.9 414.14C1356.9 414.36 1357.9 414.57 1358.9 414.8C1359.9 415.02 1360.9 415.25 1361.9 415.48C1362.9 415.71 1363.9 415.95 1364.9 416.19C1365.9 416.43 1366.9 416.67 1367.9 416.89C1368.9 417.12 1369.9 417.34 1370.9 417.55C1371.9 417.77 1372.9 417.97 1373.9 418.18C1374.9 418.39 1375.9 418.6 1376.9 418.82C1377.9 419.03 1378.9 419.25 1379.9 419.48C1380.9 419.7 1381.9 419.94 1382.9 420.18C1383.9 420.41 1384.9 420.66 1385.9 420.9C1386.9 421.15 1387.9 421.39 1388.9 421.64C1389.9 421.89 1390.9 422.14 1391.9 422.39C1392.9 422.64 1393.9 422.9 1394.9 423.15C1395.9 423.41 1396.9 423.67 1397.9 423.91C1398.9 424.16 1399.9 424.4 1400.9 424.63C1401.9 424.85 1402.9 425.06 1403.9 425.24C1404.9 425.43 1405.9 425.59 1406.9 425.75C1407.9 425.92 1408.9 426.07 1409.9 426.21C1410.9 426.36 1411.9 426.52 1412.9 426.64C1413.9 426.76 1415.4 426.9 1415.9 426.96" fill="none" stroke="#4472C4" stroke-width="2" stroke-linejoin="round" stroke-linecap="round"/>
<clipPath id="pc"><rect x="108.4" y="60" width="1309.6" height="380"/></clipPath>
<line x1="110.2" y1="357.2" x2="1421.4" y2="357.2" stroke="#E00000" stroke-width="2.8" stroke-linecap="round" stroke-dasharray="10.6 13.1" clip-path="url(#pc)"/>
<line x1="108.4" y1="77" x2="108.4" y2="437" stroke="#505050" stroke-width="1.1"/>
<line x1="102" y1="437" x2="114.8" y2="437" stroke="#505050" stroke-width="1.05"/>
<line x1="104" y1="426.71" x2="108.4" y2="426.71" stroke="#505050" stroke-width="1.05"/>
<line x1="104" y1="416.43" x2="108.4" y2="416.43" stroke="#505050" stroke-width="1.05"/>
<line x1="104" y1="406.14" x2="108.4" y2="406.14" stroke="#505050" stroke-width="1.05"/>
<line x1="104" y1="395.86" x2="108.4" y2="395.86" stroke="#505050" stroke-width="1.05"/>
<line x1="102" y1="385.57" x2="114.8" y2="385.57" stroke="#505050" stroke-width="1.05"/>
<line x1="104" y1="375.29" x2="108.4" y2="375.29" stroke="#505050" stroke-width="1.05"/>
<line x1="104" y1="365" x2="108.4" y2="365" stroke="#505050" stroke-width="1.05"/>
<line x1="104" y1="354.71" x2="108.4" y2="354.71" stroke="#505050" stroke-width="1.05"/>
<line x1="104" y1="344.43" x2="108.4" y2="344.43" stroke="#505050" stroke-width="1.05"/>
<line x1="102" y1="334.14" x2="114.8" y2="334.14" stroke="#505050" stroke-width="1.05"/>
<line x1="104" y1="323.86" x2="108.4" y2="323.86" stroke="#505050" stroke-width="1.05"/>
<line x1="104" y1="313.57" x2="108.4" y2="313.57" stroke="#505050" stroke-width="1.05"/>
<line x1="104" y1="303.29" x2="108.4" y2="303.29" stroke="#505050" stroke-width="1.05"/>
<line x1="104" y1="293" x2="108.4" y2="293" stroke="#505050" stroke-width="1.05"/>
<line x1="102" y1="282.71" x2="114.8" y2="282.71" stroke="#505050" stroke-width="1.05"/>
<line x1="104" y1="272.43" x2="108.4" y2="272.43" stroke="#505050" stroke-width="1.05"/>
<line x1="104" y1="262.14" x2="108.4" y2="262.14" stroke="#505050" stroke-width="1.05"/>
<line x1="104" y1="251.86" x2="108.4" y2="251.86" stroke="#505050" stroke-width="1.05"/>
<line x1="104" y1="241.57" x2="108.4" y2="241.57" stroke="#505050" stroke-width="1.05"/>
<line x1="102" y1="231.29" x2="114.8" y2="231.29" stroke="#505050" stroke-width="1.05"/>
<line x1="104" y1="221" x2="108.4" y2="221" stroke="#505050" stroke-width="1.05"/>
<line x1="104" y1="210.71" x2="108.4" y2="210.71" stroke="#505050" stroke-width="1.05"/>
<line x1="104" y1="200.43" x2="108.4" y2="200.43" stroke="#505050" stroke-width="1.05"/>
<line x1="104" y1="190.14" x2="108.4" y2="190.14" stroke="#505050" stroke-width="1.05"/>
<line x1="102" y1="179.86" x2="114.8" y2="179.86" stroke="#505050" stroke-width="1.05"/>
<line x1="104" y1="169.57" x2="108.4" y2="169.57" stroke="#505050" stroke-width="1.05"/>
<line x1="104" y1="159.29" x2="108.4" y2="159.29" stroke="#505050" stroke-width="1.05"/>
<line x1="104" y1="149" x2="108.4" y2="149" stroke="#505050" stroke-width="1.05"/>
<line x1="104" y1="138.71" x2="108.4" y2="138.71" stroke="#505050" stroke-width="1.05"/>
<line x1="102" y1="128.43" x2="114.8" y2="128.43" stroke="#505050" stroke-width="1.05"/>
<line x1="104" y1="118.14" x2="108.4" y2="118.14" stroke="#505050" stroke-width="1.05"/>
<line x1="104" y1="107.86" x2="108.4" y2="107.86" stroke="#505050" stroke-width="1.05"/>
<line x1="104" y1="97.57" x2="108.4" y2="97.57" stroke="#505050" stroke-width="1.05"/>
<line x1="104" y1="87.29" x2="108.4" y2="87.29" stroke="#505050" stroke-width="1.05"/>
<line x1="102" y1="77" x2="114.8" y2="77" stroke="#505050" stroke-width="1.05"/>
<line x1="1417.7" y1="77" x2="1417.7" y2="437" stroke="#c8c8c8" stroke-width="1.3"/>
<line x1="1417.7" y1="437" x2="1424" y2="437" stroke="#c8c8c8" stroke-width="1.2"/>
<line x1="1417.7" y1="397" x2="1424" y2="397" stroke="#c8c8c8" stroke-width="1.2"/>
<line x1="1417.7" y1="357" x2="1424" y2="357" stroke="#c8c8c8" stroke-width="1.2"/>
<line x1="1417.7" y1="317" x2="1424" y2="317" stroke="#c8c8c8" stroke-width="1.2"/>
<line x1="1417.7" y1="277" x2="1424" y2="277" stroke="#c8c8c8" stroke-width="1.2"/>
<line x1="1417.7" y1="237" x2="1424" y2="237" stroke="#c8c8c8" stroke-width="1.2"/>
<line x1="1417.7" y1="197" x2="1424" y2="197" stroke="#c8c8c8" stroke-width="1.2"/>
<line x1="1417.7" y1="157" x2="1424" y2="157" stroke="#c8c8c8" stroke-width="1.2"/>
<line x1="1417.7" y1="117" x2="1424" y2="117" stroke="#c8c8c8" stroke-width="1.2"/>
<line x1="1417.7" y1="77" x2="1424" y2="77" stroke="#c8c8c8" stroke-width="1.2"/>
<line x1="102" y1="437" x2="1418.4" y2="437" stroke="#505050" stroke-width="1.1"/>
<line x1="108.4" y1="437" x2="108.4" y2="441.5" stroke="#505050" stroke-width="1.05"/>
<line x1="143.94" y1="437" x2="143.94" y2="441.5" stroke="#505050" stroke-width="1.05"/>
<line x1="179.49" y1="437" x2="179.49" y2="441.5" stroke="#505050" stroke-width="1.05"/>
<line x1="215.03" y1="437" x2="215.03" y2="441.5" stroke="#505050" stroke-width="1.05"/>
<line x1="250.57" y1="437" x2="250.57" y2="441.5" stroke="#505050" stroke-width="1.05"/>
<line x1="286.11" y1="437" x2="286.11" y2="441.5" stroke="#505050" stroke-width="1.05"/>
<line x1="321.66" y1="437" x2="321.66" y2="441.5" stroke="#505050" stroke-width="1.05"/>
<line x1="357.2" y1="437" x2="357.2" y2="441.5" stroke="#505050" stroke-width="1.05"/>
<line x1="392.74" y1="437" x2="392.74" y2="441.5" stroke="#505050" stroke-width="1.05"/>
<line x1="428.28" y1="437" x2="428.28" y2="441.5" stroke="#505050" stroke-width="1.05"/>
<line x1="463.83" y1="437" x2="463.83" y2="441.5" stroke="#505050" stroke-width="1.05"/>
<line x1="499.37" y1="437" x2="499.37" y2="441.5" stroke="#505050" stroke-width="1.05"/>
<line x1="534.91" y1="437" x2="534.91" y2="441.5" stroke="#505050" stroke-width="1.05"/>
<line x1="570.45" y1="437" x2="570.45" y2="441.5" stroke="#505050" stroke-width="1.05"/>
<line x1="606" y1="437" x2="606" y2="441.5" stroke="#505050" stroke-width="1.05"/>
<line x1="641.54" y1="437" x2="641.54" y2="441.5" stroke="#505050" stroke-width="1.05"/>
<line x1="677.08" y1="437" x2="677.08" y2="441.5" stroke="#505050" stroke-width="1.05"/>
<line x1="712.62" y1="437" x2="712.62" y2="441.5" stroke="#505050" stroke-width="1.05"/>
<line x1="748.17" y1="437" x2="748.17" y2="441.5" stroke="#505050" stroke-width="1.05"/>
<line x1="783.71" y1="437" x2="783.71" y2="441.5" stroke="#505050" stroke-width="1.05"/>
<line x1="819.25" y1="437" x2="819.25" y2="441.5" stroke="#505050" stroke-width="1.05"/>
<line x1="854.8" y1="437" x2="854.8" y2="441.5" stroke="#505050" stroke-width="1.05"/>
<line x1="890.34" y1="437" x2="890.34" y2="441.5" stroke="#505050" stroke-width="1.05"/>
<line x1="925.88" y1="437" x2="925.88" y2="441.5" stroke="#505050" stroke-width="1.05"/>
<line x1="961.42" y1="437" x2="961.42" y2="441.5" stroke="#505050" stroke-width="1.05"/>
<line x1="996.97" y1="437" x2="996.97" y2="441.5" stroke="#505050" stroke-width="1.05"/>
<line x1="1032.51" y1="437" x2="1032.51" y2="441.5" stroke="#505050" stroke-width="1.05"/>
<line x1="1068.05" y1="437" x2="1068.05" y2="441.5" stroke="#505050" stroke-width="1.05"/>
<line x1="1103.59" y1="437" x2="1103.59" y2="441.5" stroke="#505050" stroke-width="1.05"/>
<line x1="1139.14" y1="437" x2="1139.14" y2="441.5" stroke="#505050" stroke-width="1.05"/>
<line x1="1174.68" y1="437" x2="1174.68" y2="441.5" stroke="#505050" stroke-width="1.05"/>
<line x1="1210.22" y1="437" x2="1210.22" y2="441.5" stroke="#505050" stroke-width="1.05"/>
<line x1="1245.76" y1="437" x2="1245.76" y2="441.5" stroke="#505050" stroke-width="1.05"/>
<line x1="1281.31" y1="437" x2="1281.31" y2="441.5" stroke="#505050" stroke-width="1.05"/>
<line x1="1316.85" y1="437" x2="1316.85" y2="441.5" stroke="#505050" stroke-width="1.05"/>
<line x1="1352.39" y1="437" x2="1352.39" y2="441.5" stroke="#505050" stroke-width="1.05"/>
<line x1="1387.93" y1="437" x2="1387.93" y2="441.5" stroke="#505050" stroke-width="1.05"/>
<text transform="translate(90.6 442.8) scale(1.12 1)" font-size="16" text-anchor="end">0</text>
<text transform="translate(90.6 391.37) scale(1.12 1)" font-size="16" text-anchor="end">10</text>
<text transform="translate(90.6 339.94) scale(1.12 1)" font-size="16" text-anchor="end">20</text>
<text transform="translate(90.6 288.51) scale(1.12 1)" font-size="16" text-anchor="end">30</text>
<text transform="translate(90.6 237.09) scale(1.12 1)" font-size="16" text-anchor="end">40</text>
<text transform="translate(90.6 185.66) scale(1.12 1)" font-size="16" text-anchor="end">50</text>
<text transform="translate(90.6 134.23) scale(1.12 1)" font-size="16" text-anchor="end">60</text>
<text transform="translate(90.6 82.8) scale(1.12 1)" font-size="16" text-anchor="end">70</text>
<text transform="translate(1435.6 442.8) scale(1.18 1)" font-size="16" text-anchor="start">0</text>
<text transform="translate(1435.6 402.8) scale(1.18 1)" font-size="16" text-anchor="start">5</text>
<text transform="translate(1435.6 362.8) scale(1.18 1)" font-size="16" text-anchor="start">10</text>
<text transform="translate(1435.6 322.8) scale(1.18 1)" font-size="16" text-anchor="start">15</text>
<text transform="translate(1435.6 282.8) scale(1.18 1)" font-size="16" text-anchor="start">20</text>
<text transform="translate(1435.6 242.8) scale(1.18 1)" font-size="16" text-anchor="start">25</text>
<text transform="translate(1435.6 202.8) scale(1.18 1)" font-size="16" text-anchor="start">30</text>
<text transform="translate(1435.6 162.8) scale(1.18 1)" font-size="16" text-anchor="start">35</text>
<text transform="translate(1435.6 122.8) scale(1.18 1)" font-size="16" text-anchor="start">40</text>
<text transform="translate(1435.6 82.8) scale(1.18 1)" font-size="16" text-anchor="start">45</text>
<text transform="translate(113.4 454.4) scale(1.12 1) rotate(-45)" font-size="12.6" text-anchor="end">01-10-20</text>
<text transform="translate(148.94 454.4) scale(1.12 1) rotate(-45)" font-size="12.6" text-anchor="end">08-10-20</text>
<text transform="translate(184.49 454.4) scale(1.12 1) rotate(-45)" font-size="12.6" text-anchor="end">15-10-20</text>
<text transform="translate(220.03 454.4) scale(1.12 1) rotate(-45)" font-size="12.6" text-anchor="end">22-10-20</text>
<text transform="translate(255.57 454.4) scale(1.12 1) rotate(-45)" font-size="12.6" text-anchor="end">29-10-20</text>
<text transform="translate(291.11 454.4) scale(1.12 1) rotate(-45)" font-size="12.6" text-anchor="end">05-11-20</text>
<text transform="translate(326.66 454.4) scale(1.12 1) rotate(-45)" font-size="12.6" text-anchor="end">12-11-20</text>
<text transform="translate(362.2 454.4) scale(1.12 1) rotate(-45)" font-size="12.6" text-anchor="end">19-11-20</text>
<text transform="translate(397.74 454.4) scale(1.12 1) rotate(-45)" font-size="12.6" text-anchor="end">26-11-20</text>
<text transform="translate(433.28 454.4) scale(1.12 1) rotate(-45)" font-size="12.6" text-anchor="end">03-12-20</text>
<text transform="translate(468.83 454.4) scale(1.12 1) rotate(-45)" font-size="12.6" text-anchor="end">10-12-20</text>
<text transform="translate(504.37 454.4) scale(1.12 1) rotate(-45)" font-size="12.6" text-anchor="end">17-12-20</text>
<text transform="translate(539.91 454.4) scale(1.12 1) rotate(-45)" font-size="12.6" text-anchor="end">24-12-20</text>
<text transform="translate(575.45 454.4) scale(1.12 1) rotate(-45)" font-size="12.6" text-anchor="end">31-12-20</text>
<text transform="translate(611 454.4) scale(1.12 1) rotate(-45)" font-size="12.6" text-anchor="end">07-01-21</text>
<text transform="translate(646.54 454.4) scale(1.12 1) rotate(-45)" font-size="12.6" text-anchor="end">14-01-21</text>
<text transform="translate(682.08 454.4) scale(1.12 1) rotate(-45)" font-size="12.6" text-anchor="end">21-01-21</text>
<text transform="translate(717.62 454.4) scale(1.12 1) rotate(-45)" font-size="12.6" text-anchor="end">28-01-21</text>
<text transform="translate(753.17 454.4) scale(1.12 1) rotate(-45)" font-size="12.6" text-anchor="end">04-02-21</text>
<text transform="translate(788.71 454.4) scale(1.12 1) rotate(-45)" font-size="12.6" text-anchor="end">11-02-21</text>
<text transform="translate(824.25 454.4) scale(1.12 1) rotate(-45)" font-size="12.6" text-anchor="end">18-02-21</text>
<text transform="translate(859.8 454.4) scale(1.12 1) rotate(-45)" font-size="12.6" text-anchor="end">25-02-21</text>
<text transform="translate(895.34 454.4) scale(1.12 1) rotate(-45)" font-size="12.6" text-anchor="end">04-03-21</text>
<text transform="translate(930.88 454.4) scale(1.12 1) rotate(-45)" font-size="12.6" text-anchor="end">11-03-21</text>
<text transform="translate(966.42 454.4) scale(1.12 1) rotate(-45)" font-size="12.6" text-anchor="end">18-03-21</text>
<text transform="translate(1001.97 454.4) scale(1.12 1) rotate(-45)" font-size="12.6" text-anchor="end">25-03-21</text>
<text transform="translate(1037.51 454.4) scale(1.12 1) rotate(-45)" font-size="12.6" text-anchor="end">01-04-21</text>
<text transform="translate(1073.05 454.4) scale(1.12 1) rotate(-45)" font-size="12.6" text-anchor="end">08-04-21</text>
<text transform="translate(1108.59 454.4) scale(1.12 1) rotate(-45)" font-size="12.6" text-anchor="end">15-04-21</text>
<text transform="translate(1144.14 454.4) scale(1.12 1) rotate(-45)" font-size="12.6" text-anchor="end">22-04-21</text>
<text transform="translate(1179.68 454.4) scale(1.12 1) rotate(-45)" font-size="12.6" text-anchor="end">29-04-21</text>
<text transform="translate(1215.22 454.4) scale(1.12 1) rotate(-45)" font-size="12.6" text-anchor="end">06-05-21</text>
<text transform="translate(1250.76 454.4) scale(1.12 1) rotate(-45)" font-size="12.6" text-anchor="end">13-05-21</text>
<text transform="translate(1286.31 454.4) scale(1.12 1) rotate(-45)" font-size="12.6" text-anchor="end">20-05-21</text>
<text transform="translate(1321.85 454.4) scale(1.12 1) rotate(-45)" font-size="12.6" text-anchor="end">27-05-21</text>
<text transform="translate(1357.39 454.4) scale(1.12 1) rotate(-45)" font-size="12.6" text-anchor="end">03-06-21</text>
<text transform="translate(1392.93 454.4) scale(1.12 1) rotate(-45)" font-size="12.6" text-anchor="end">10-06-21</text>
<text transform="translate(21.5 230.6) scale(1.12 1) rotate(-90)" font-size="16" text-anchor="middle">Ρυθμός μεταβολής κρουσμάτων</text>
<text transform="translate(1494.6 233.8) scale(1.12 1) rotate(-90)" font-size="16" text-anchor="middle">Κρούσματα ανά 100.000</text>
<rect x="63" y="17.2" width="29.8" height="8.8" fill="#a3a3a3"/>
<line x1="63" y1="48.4" x2="93" y2="48.4" stroke="#ED7D31" stroke-width="2"/>
<line x1="761" y1="21" x2="792" y2="21" stroke="#4472C4" stroke-width="2"/>
<line x1="761.9" y1="49" x2="792" y2="49" stroke="#E00000" stroke-width="2.8" stroke-linecap="round" stroke-dasharray="10.1 13.3"/>
<text x="96.2" y="26.8" font-size="16" textLength="197.3" lengthAdjust="spacingAndGlyphs">Κρούσματα ανά 100.000</text>
<text x="301.1" y="26.8" font-size="16" textLength="281.2" lengthAdjust="spacingAndGlyphs">(Κυλιόμενος μέσος όρος 7 ημερών)</text>
<text x="96.2" y="54.7" font-size="16" textLength="585.5" lengthAdjust="spacingAndGlyphs">Ρυθμός μεταβολής επιβεβαιωμένων κρουσμάτων (7days moving average)</text>
<text x="794.6" y="26.8" font-size="16" textLength="528" lengthAdjust="spacingAndGlyphs">Ρυθμός μεταβολής κρουσμάτων μοντέλου (7days moving average)</text>
<text x="794.1" y="54.7" font-size="16" textLength="289.5" lengthAdjust="spacingAndGlyphs">Όριο μετάβασης σε κόκκινη περιοχή</text>
</svg>
</body></html>
